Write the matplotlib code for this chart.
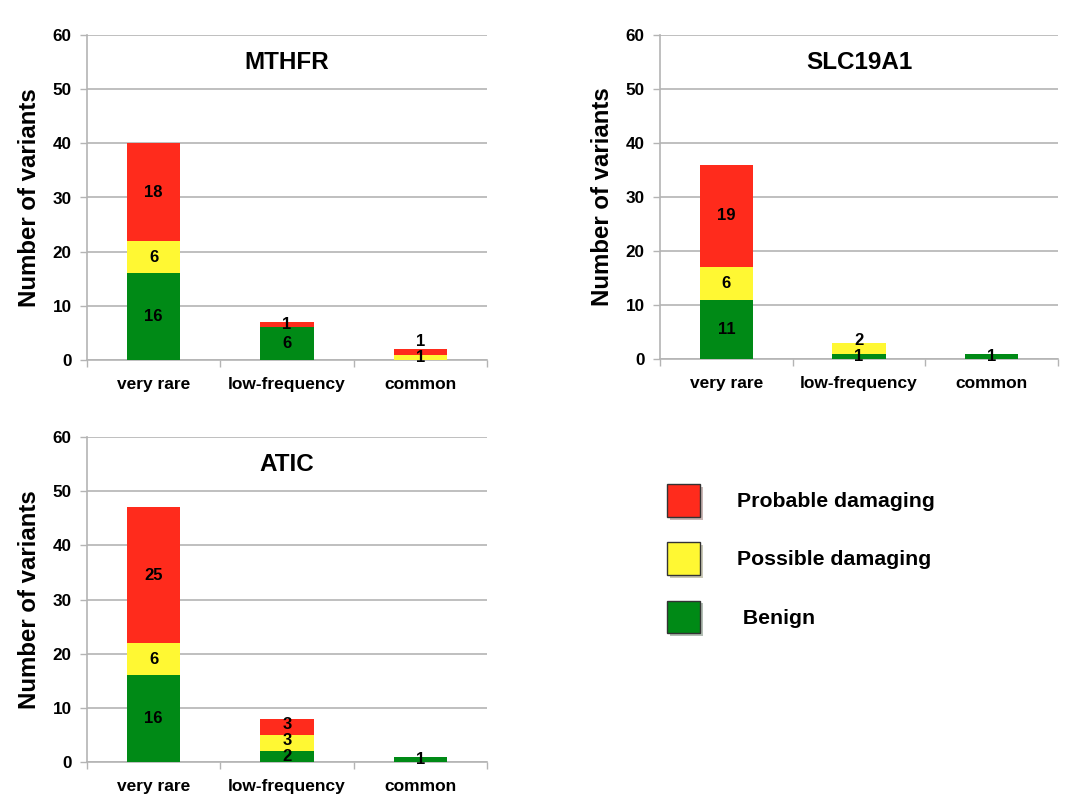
import matplotlib
matplotlib.use("Agg")
import matplotlib.pyplot as plt
from matplotlib.patches import Patch
import matplotlib.patheffects as pe

plt.rcParams['font.family'] = ['Liberation Sans', 'DejaVu Sans']
plt.rcParams['font.weight'] = 'bold'

categories = ["very rare", "low-frequency", "common"]
series_names = ["Probable damaging", "Possible damaging", " Benign"]

mthfr_benign = [16, 6, 0]
mthfr_possible = [6, 0, 1]
mthfr_probable = [18, 1, 1]

slc_benign = [11, 1, 1]
slc_possible = [6, 2, 0]
slc_probable = [19, 0, 0]

atic_benign = [16, 2, 1]
atic_possible = [6, 3, 0]
atic_probable = [25, 3, 0]

yticks = [0, 10, 20, 30, 40, 50, 60]

RED = '#FF2B1C'
YELLOW = '#FFF833'
GREEN = '#008A16'
GRID = '#B4B4B4'

fig = plt.figure(figsize=(10.82, 8.05), dpi=100)

def panel(rect, title, benign, possible, probable):
    ax = fig.add_axes(rect)
    x = [i + 0.5 for i in range(len(categories))]
    w = 0.4
    stacks = [(benign, GREEN), (possible, YELLOW), (probable, RED)]
    bottoms = [0] * len(x)
    label_pos = [[] for _ in x]
    for vals, col in stacks:
        ax.bar(x, vals, w, bottom=bottoms, color=col, edgecolor='none', zorder=3)
        for i, v in enumerate(vals):
            if v > 0:
                label_pos[i].append((bottoms[i] + v / 2, v))
        bottoms = [b + v for b, v in zip(bottoms, vals)]
    gap = 3.0
    for i, labs in enumerate(label_pos):
        prev = None
        for yc, v in labs:
            y = yc if prev is None else max(yc, prev + gap)
            ax.text(x[i], y, str(v), ha='center', va='center', fontsize=12,
                    fontweight='bold', color='black', zorder=5)
            prev = y
    ax.set_xlim(0, 3)
    ax.set_ylim(0, 60)
    ax.set_yticks(yticks)
    ax.set_yticklabels([str(t) for t in yticks], fontsize=12.3, fontweight='bold')
    ax.set_xticks(x)
    ax.set_xticklabels(categories, fontsize=12.5, fontweight='bold')
    ax.set_xticks([0, 1, 2, 3], minor=True)
    ax.tick_params(axis='x', which='major', length=0, pad=12.5)
    ax.tick_params(axis='x', which='minor', length=5, color=GRID, width=1)
    ax.tick_params(axis='y', length=5, color=GRID, width=1, pad=6)
    ax.yaxis.grid(True, color=GRID, linewidth=1.2, zorder=0)
    ax.set_axisbelow(True)
    for s in ['top', 'right']:
        ax.spines[s].set_visible(False)
    for s in ['left', 'bottom']:
        ax.spines[s].set_color(GRID)
        ax.spines[s].set_linewidth(1.2)
    ax.set_ylabel("Number of variants", fontsize=17.3, fontweight='bold', labelpad=8)
    ax.text(0.5, 0.915, title, transform=ax.transAxes, ha='center', va='center',
            fontsize=17.5, fontweight='bold')
    return ax

W, H = 1082, 805
def rect(l, r, t, b):
    return [l / W, 1 - b / H, (r - l) / W, (b - t) / H]

panel(rect(87, 487, 35, 360), "MTHFR", mthfr_benign, mthfr_possible, mthfr_probable)
panel(rect(660, 1058, 35, 359), "SLC19A1", slc_benign, slc_possible, slc_probable)
panel(rect(87, 487, 437, 762), "ATIC", atic_benign, atic_possible, atic_probable)

handles = [Patch(facecolor=RED, edgecolor='#333333', linewidth=1),
           Patch(facecolor=YELLOW, edgecolor='#333333', linewidth=1),
           Patch(facecolor=GREEN, edgecolor='#333333', linewidth=1)]
leg = fig.legend(handles, series_names, loc='upper left',
                 bbox_to_anchor=(667 / W, 1 - 484 / H), frameon=False,
                 borderaxespad=0, borderpad=0,
                 prop={'size': 15.3, 'weight': 'bold'},
                 handlelength=1.55, handleheight=2.0, handletextpad=1.75,
                 labelspacing=1.2)
for p in leg.get_patches():
    p.set_path_effects([pe.SimplePatchShadow(offset=(2, -2), alpha=0.3), pe.Normal()])

fig.savefig("out.png", dpi=100)
